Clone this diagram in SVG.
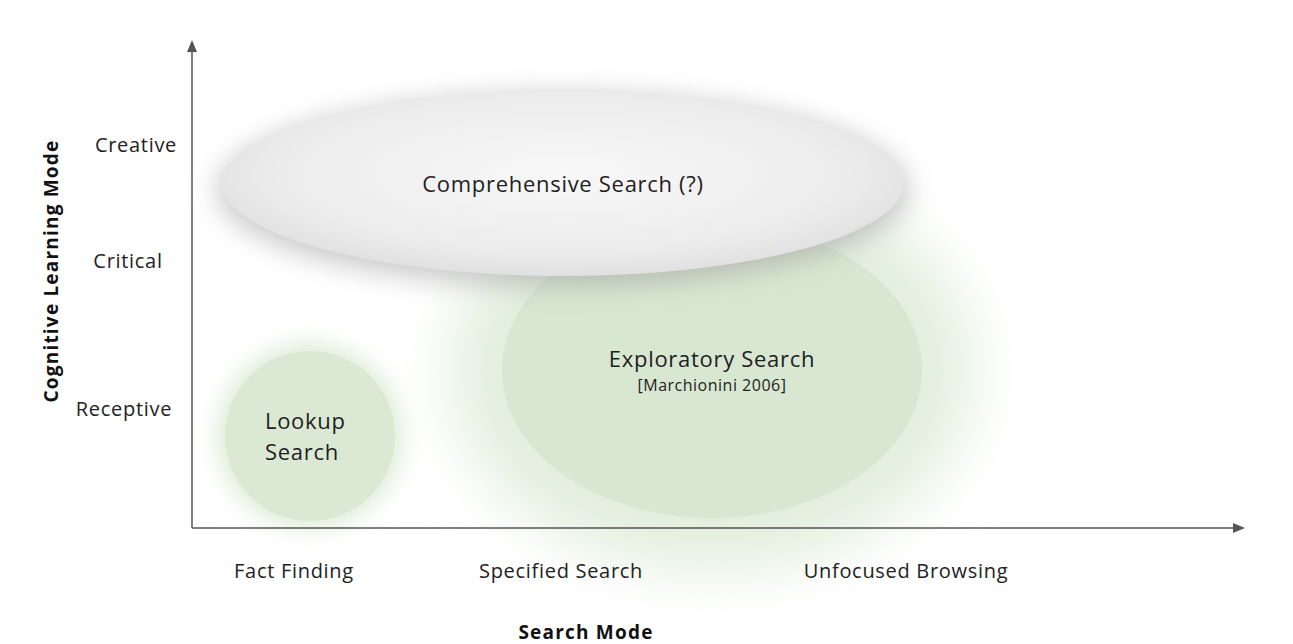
<svg xmlns="http://www.w3.org/2000/svg" width="1293" height="644" viewBox="0 0 1293 644">
<style>
text{font-family:"Open Sans","Liberation Sans",sans-serif;fill:#222}
.tick{font-size:20px;letter-spacing:0.7px;text-anchor:middle}
.lbl{font-size:22px;letter-spacing:0.7px;text-anchor:middle;fill:#1e1e1e}
.ax{font-size:19px;letter-spacing:1.2px;font-weight:bold;text-anchor:middle;fill:#111}
.axis{stroke:#555;stroke-width:1.5;fill:none}
</style>
<defs>
<filter id="glow" x="-50%" y="-50%" width="200%" height="200%"><feGaussianBlur stdDeviation="30"/></filter>
<filter id="glowS" x="-50%" y="-50%" width="200%" height="200%"><feGaussianBlur stdDeviation="12"/></filter>
<filter id="shadow" x="-20%" y="-40%" width="140%" height="180%"><feGaussianBlur stdDeviation="14"/></filter>
<radialGradient id="gray" cx="50%" cy="45%" r="60%"><stop offset="0" stop-color="#f8f8f8"/><stop offset="0.7" stop-color="#ececec"/><stop offset="1" stop-color="#dcdcdc"/></radialGradient>
<marker id="arr" markerWidth="12" markerHeight="10" refX="10" refY="5" orient="auto" markerUnits="userSpaceOnUse"><path d="M0,0 L12,5 L0,10 Z" fill="#555"/></marker>
</defs>
<rect width="1293" height="644" fill="#fff"/>
<g id="lookup">
<ellipse cx="310" cy="436" rx="92" ry="92" fill="#dcebd6" filter="url(#glowS)"/>
<ellipse cx="310" cy="436" rx="85" ry="85" fill="#dbe9d4"/>
<text class="lbl" x="265" y="429" style="text-anchor:start">Lookup</text>
<text class="lbl" x="265" y="460" style="text-anchor:start">Search</text>
</g>
<g id="exploratory">
<ellipse cx="712" cy="370" rx="260" ry="200" fill="#e2eedd" filter="url(#glow)"/>
<ellipse cx="712" cy="370" rx="210" ry="148" fill="#d8e7d1"/>
<text class="lbl" x="712" y="367">Exploratory Search</text>
<text class="lbl" x="712" y="391" style="font-size:16px;letter-spacing:0.5px">[Marchionini 2006]</text>
</g>
<g id="comprehensive">
<ellipse cx="563" cy="190" rx="345" ry="95" fill="#999" opacity="0.55" filter="url(#shadow)"/>
<ellipse cx="563" cy="183" rx="341" ry="93" fill="url(#gray)"/>
<text class="lbl" x="563" y="192">Comprehensive Search (?)</text>
</g>
<g id="connectors">
<line class="axis" x1="192" y1="528" x2="192" y2="42" marker-end="url(#arr)"/>
<line class="axis" x1="192" y1="528" x2="1243" y2="528" marker-end="url(#arr)"/>
</g>
<g id="labels">
<text class="tick" x="136" y="152">Creative</text>
<text class="tick" x="128" y="268">Critical</text>
<text class="tick" x="124" y="416">Receptive</text>
<text class="tick" x="294" y="578">Fact Finding</text>
<text class="tick" x="561" y="578">Specified Search</text>
<text class="tick" x="906" y="578">Unfocused Browsing</text>
<text class="ax" x="586" y="639">Search Mode</text>
<text class="ax" transform="translate(58,271) rotate(-90)">Cognitive Learning Mode</text>
</g>
</svg>
